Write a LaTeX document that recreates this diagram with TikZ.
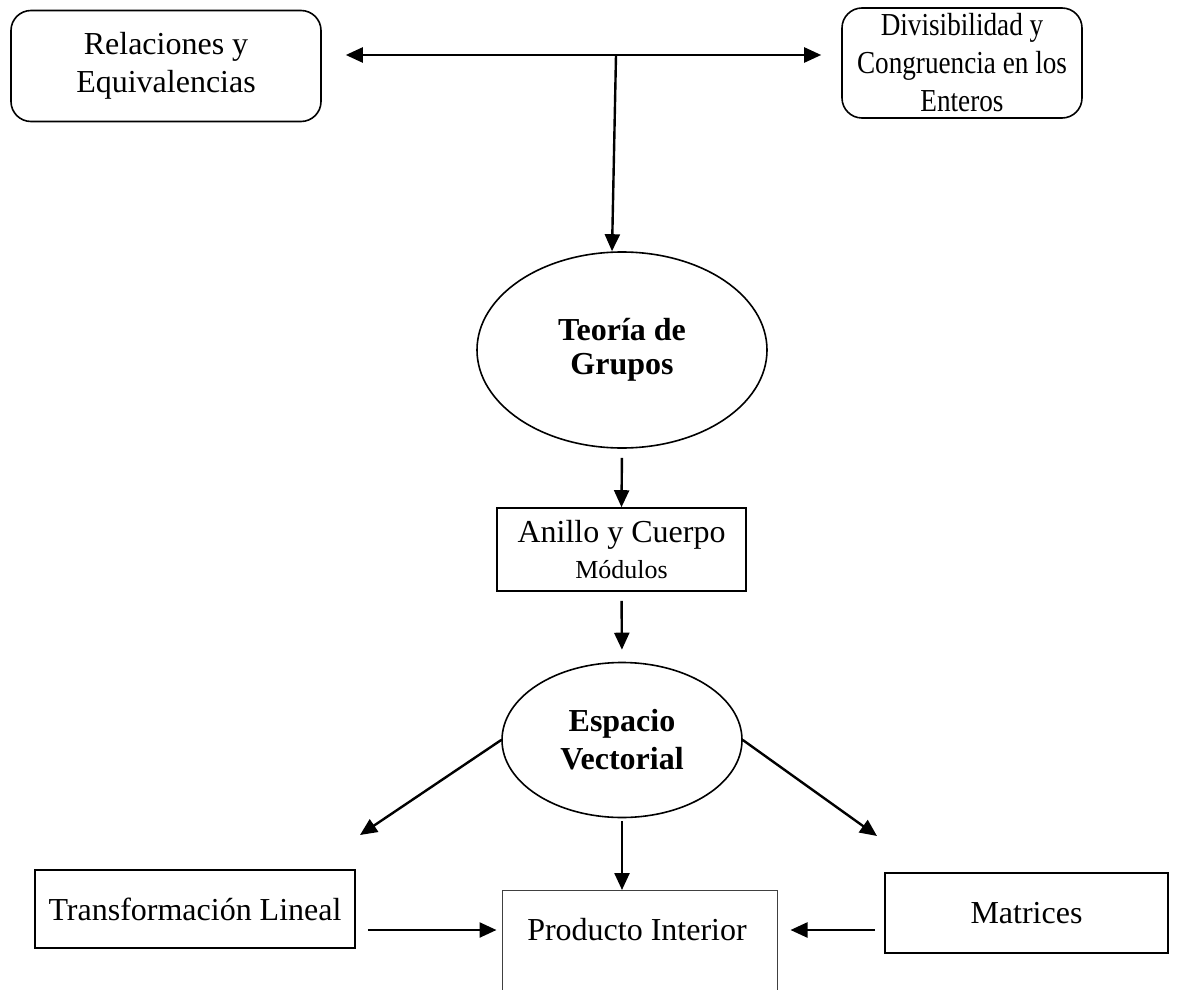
\documentclass[tikz,border=0pt]{standalone}
\usepackage{fontspec}
\setmainfont{Liberation Serif}
\newfontfamily\estrecha[FakeStretch=0.85]{Liberation Serif}
\usetikzlibrary{arrows.meta,shapes.geometric}

\tikzset{
  caja/.style={draw, line width=0.8pt, inner sep=0pt, align=center, font=\fontsize{16}{19}\selectfont},
  redonda/.style={caja, rounded corners=10pt},
  elipse/.style={draw, ellipse, line width=0.8pt, inner sep=0pt, align=center, font=\fontsize{16}{19}\selectfont\bfseries},
  flecha/.style={line width=1.2pt, -{Triangle[length=8.5pt,width=7.5pt]}},
}

\begin{document}
\begin{tikzpicture}[x=0.5pt, y=-0.5pt]
\useasboundingbox (0,0) rectangle (1178,990);
\clip (0,0) rectangle (1178,990);

% Cajas de arriba
\node[redonda, minimum width=155pt, minimum height=55.5pt] (rel) at (166,66) {Relaciones y\\Equivalencias};
\node[redonda, font=\fontsize{16}{19}\estrecha, minimum width=120pt, minimum height=55pt] (div) at (962,63) {Divisibilidad y\\Congruencia en los\\Enteros};

% Teoria de grupos
\node[elipse, font=\fontsize{16}{17}\selectfont\bfseries, minimum width=145pt, minimum height=98pt] (teoria) at (622,350) {Teoría de\\Grupos};

% Flechas de arriba
\coordinate (cruce) at (616,55);
\draw[flecha, shorten >=12pt] (cruce) -- (rel.east |- cruce);
\draw[flecha, shorten >=10pt] (cruce) -- (div.west |- cruce);
\draw[flecha] (cruce) -- ([xshift=-5pt]teoria.north);

% Anillo y espacio vectorial
\node[caja, minimum width=124.5pt, minimum height=41.5pt] (anillo) at (621.5,549.5) {Anillo y Cuerpo\\[-1pt]{\fontsize{13}{15}\selectfont Módulos}};
\node[elipse, minimum width=120pt, minimum height=77.5pt] (espacio) at (622,740) {Espacio\\Vectorial};

\draw[flecha, shorten <=4.5pt] (teoria.south) -- (anillo.north);
\draw[flecha, shorten <=4.5pt, shorten >=6pt] (anillo.south) -- (espacio.north);

% Cajas de abajo
\node[caja, minimum width=160pt, minimum height=39pt] (transf) at (195,909) {Transformación Lineal};
\node[caja, minimum width=141.5pt, minimum height=40pt] (matrices) at (1026.5,913) {Matrices};
\node[draw=black!75, line width=0.5pt, minimum width=137.5pt, minimum height=70pt, anchor=north] (producto) at (639.5,890) {};
\node[font=\fontsize{16}{19}\selectfont] (prodtxt) at (637,930) {Producto Interior};

% Flechas de abajo
\coordinate (pTL) at (360,835);
\coordinate (pMA) at (877,836);
\draw[flecha] (espacio.west) -- (pTL);
\draw[flecha] (espacio.east) -- (pMA);
\draw[flecha, shorten <=1.5pt] (espacio.south) -- (espacio.south |- producto.north);
\draw[flecha, shorten <=6pt, shorten >=2.5pt] (transf.east |- prodtxt) -- (prodtxt -| producto.west);
\draw[flecha, shorten <=4.5pt, shorten >=6.5pt] (matrices.west |- prodtxt) -- (prodtxt -| producto.east);

\end{tikzpicture}
\end{document}
